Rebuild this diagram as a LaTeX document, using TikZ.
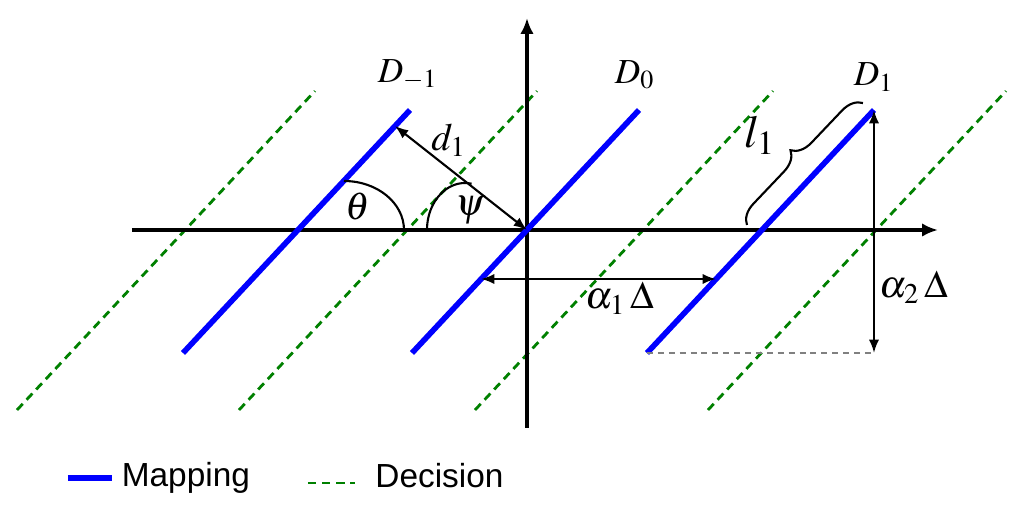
\documentclass[tikz,border=0pt]{standalone}
\usepackage{mathptmx}
\usepackage[no-math]{fontspec}
\setmainfont{Liberation Serif}
\setsansfont{Liberation Sans}
\usetikzlibrary{arrows.meta,decorations.pathreplacing}

\begin{document}
\begin{tikzpicture}[
  mapping/.style={blue,line width=1.6pt},
  decision/.style={green!50!black,line width=0.8pt,dash pattern=on 2.4pt off 1.6pt},
  axis/.style={line width=0.9pt,-{Latex[length=4.5pt,width=3.8pt]}},
  dim/.style={line width=0.6pt,{Latex[length=3.8pt,width=2.9pt]}-{Latex[length=3.8pt,width=2.9pt]}},
  lab/.style={font=\fontsize{11}{13}\selectfont},
  legend/.style={text=black,font=\sffamily\fontsize{9.5}{11}\selectfont,inner sep=2pt}]
  \useasboundingbox (-5.27,-2.78) rectangle (4.97,2.30);
  % decision boundaries
  \foreach \c in {-3.42,-1.20,1.16,3.49}
    \draw[decision] (\c-1.68,-1.80) -- (\c+1.30,1.39);
  % axes
  \draw[axis] (-3.95,0) -- (4.11,0);
  \draw[axis] (0,-1.98) -- (0,2.12);
  % mapping lines
  \draw[mapping] (-3.44,-1.23) coordinate (Dmb) -- (-1.17,1.20) coordinate (Dmt);
  \draw[mapping] (-1.15,-1.23) coordinate (Dzb) -- (1.12,1.20) coordinate (Dzt);
  \draw[mapping] (1.20,-1.23) coordinate (Dpb) -- (3.47,1.20) coordinate (Dpt);
  \node[font=\fontsize{10}{12}\selectfont] (lDm) at (-1.19,1.55) {$D_{-1}$};
  \node[font=\fontsize{10}{12}\selectfont] (lDz) at (1.08,1.55) {$D_0$};
  \node[font=\fontsize{10}{12}\selectfont] (lDp) at (3.47,1.53) {$D_1$};
  % distance and angles
  \coordinate (O) at (0,0);
  \coordinate (F) at (-1.32,1.04);
  \draw[dim] (F) -- (O);
  \node[lab] (ld) at (-0.78,0.90) {$d_1$};
  \draw[line width=0.6pt] (-1.83,0.49) arc[start angle=90,end angle=0,x radius=0.60,y radius=0.49];
  \draw[line width=0.6pt] (-1.00,0) arc[start angle=180,end angle=80,x radius=0.38,y radius=0.47];
  \node[lab] (lth) at (-1.69,0.23) {$\theta$};
  \node[lab] (lps) at (-0.57,0.20) {$\psi$};
  % length l_1
  \draw[line width=0.6pt,decorate,decoration={brace,amplitude=0.2cm}] (2.20,0.05) -- (3.36,1.27);
  \node[font=\fontsize{13}{15}\selectfont] (ll) at (2.33,0.95) {$l_1$};
  % shifts
  \coordinate (A) at (-0.46,-0.49);
  \coordinate (B) at (1.89,-0.49);
  \draw[dim] (A) -- (B);
  \node[lab] (la1) at (0.93,-0.68) {$\alpha_1\,\Delta$};
  \coordinate (C) at (Dpt |- Dpb);
  \draw[dim] (Dpt) -- (C);
  \draw[gray,line width=0.55pt,dash pattern=on 1.7pt off 1.4pt] (Dpb) -- (C);
  \node[lab] (la2) at (3.87,-0.57) {$\alpha_2\,\Delta$};
  % legend
  \draw[mapping] (-4.59,-2.48) -- (-4.15,-2.48) node[legend,right] (lm) {Mapping};
  \draw[decision] (-2.19,-2.53) -- (-1.72,-2.53) node[legend,right=0.12cm,yshift=0.07cm] (ldc) {Decision};
\end{tikzpicture}
\end{document}
